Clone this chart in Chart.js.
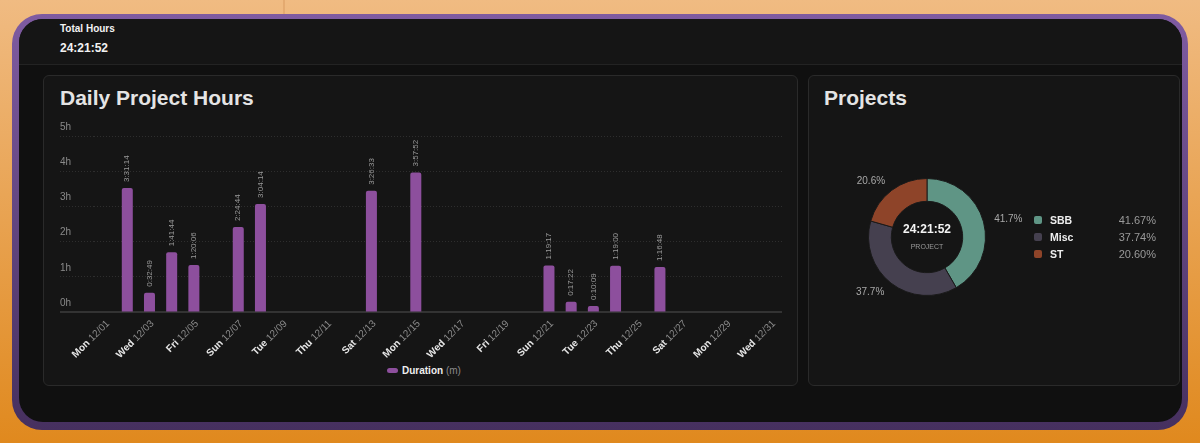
<!DOCTYPE html>
<html>
<head>
<meta charset="utf-8">
<script src="https://cdn.jsdelivr.net/npm/chart.js@4.4.1/dist/chart.umd.min.js"></script>
<style>
  body { margin: 0; width: 1200px; height: 443px; overflow: hidden; position: relative;
         background: linear-gradient(#f0bb82, #e0891e); font-family: "Liberation Sans", Arial, sans-serif; }
  .seam { position: absolute; left: 283px; top: 0; width: 2px; height: 16px; background: #e4aa70; }
  .frame { position: absolute; left: 12px; top: 14px; width: 1176px; height: 416px; border-radius: 30px;
           background: linear-gradient(#7f5ba1, #46305f); }
  .inner { position: absolute; left: 7px; top: 5px; right: 6px; bottom: 8px; border-radius: 24px;
           background: #101010; overflow: hidden; }
  .header { position: absolute; left: 0; top: 0; right: 0; height: 45px; background: #151515;
            border-bottom: 1px solid #232323; }
  .abs { position: absolute; }
  .card { position: absolute; background: #151515; border: 1px solid #2a2a2a; border-radius: 6px; box-sizing: border-box; }
  .title { position: absolute; font-size: 21px; font-weight: bold; color: #e4e4e4; line-height: 21px; }
  .legend-bar { position: absolute; left: 387px; top: 364px; font-size: 10px; line-height: 13px; color: #eee; }
  .legend-bar .pill { display: inline-block; width: 11px; height: 5px; border-radius: 3px; background: #8d4f9d;
                      vertical-align: middle; margin-right: 4px; position: relative; top: -1px; }
  .legend-bar b { font-weight: bold; }
  .legend-bar span.unit { color: #8a8a8a; }
  .plegend { position: absolute; left: 1034px; top: 212px; width: 122px; }
  .plegend .row { height: 17px; line-height: 17px; position: relative; font-size: 11px; }
  .plegend .sw { position: absolute; left: 0; top: 4px; width: 8px; height: 8px; border-radius: 2px; }
  .plegend .nm { position: absolute; left: 16px; color: #eee; font-weight: bold; font-size: 10.5px; }
  .plegend .pc { position: absolute; right: 0; color: #9a9a9a; }
</style>
</head>
<body>
<div class="seam"></div>
<div class="frame">
  <div class="inner">
    <div class="header">
      <div class="abs" style="left:41px;top:5px;font-size:10px;line-height:10px;font-weight:bold;color:#f2f2f2;">Total Hours</div>
      <div class="abs" id="total" style="left:41px;top:22.5px;font-size:12px;line-height:12px;font-weight:bold;color:#f2f2f2;"></div>
    </div>
  </div>
</div>

<div class="card" style="left:43px;top:75px;width:755px;height:311px;"></div>
<div class="card" style="left:808px;top:75px;width:372px;height:311px;"></div>
<div class="title" style="left:60px;top:87px;">Daily Project Hours</div>
<div class="title" style="left:824px;top:87px;">Projects</div>

<canvas id="daily" class="abs" style="left:44px;top:112px;" width="752" height="246"></canvas>
<div class="legend-bar"><span class="pill"></span><b>Duration</b> <span class="unit">(m)</span></div>

<canvas id="projects" class="abs" style="left:817px;top:157px;" width="220" height="160"></canvas>
<div class="plegend" id="plegend"></div>

<script>
// Jours de décembre
const days = [
    'Mon 12/01', 'Tue 12/02', 'Wed 12/03', 'Thu 12/04', 'Fri 12/05', 'Sat 12/06', 'Sun 12/07',
    'Mon 12/08', 'Tue 12/09', 'Wed 12/10', 'Thu 12/11', 'Fri 12/12', 'Sat 12/13', 'Sun 12/14',
    'Mon 12/15', 'Tue 12/16', 'Wed 12/17', 'Thu 12/18', 'Fri 12/19', 'Sat 12/20', 'Sun 12/21',
    'Mon 12/22', 'Tue 12/23', 'Wed 12/24', 'Thu 12/25', 'Fri 12/26', 'Sat 12/27', 'Sun 12/28',
    'Mon 12/29', 'Tue 12/30', 'Wed 12/31'
];
// Durée par jour (h:mm:ss), null = rien
const durations = [
    null, '3:31:14', '0:32:49', '1:41:44', '1:20:06', null, '2:24:44',
    '3:04:14', null, null, null, null, '3:26:33', null,
    '3:57:52', null, null, null, null, null, '1:19:17',
    '0:17:22', '0:10:09', '1:19:00', null, '1:16:48', null, null,
    null, null, null
];
const yTicksMinutes = [0, 60, 120, 180, 240, 300];

const projectNames = ['SBB', 'Misc', 'ST'];
const projectShares = [41.67, 37.74, 20.60];
const projectColors = ['#5f9585', '#45404f', '#8e4429'];

const toSeconds = s => {
    const [h, m, sec] = s.split(':').map(Number);
    return h * 3600 + m * 60 + sec;
};
const fmt = secs => {
    const h = Math.floor(secs / 3600);
    const m = Math.floor((secs % 3600) / 60);
    const s = secs % 60;
    return `${h}:${String(m).padStart(2, '0')}:${String(s).padStart(2, '0')}`;
};

const minutes = durations.map(d => d ? toSeconds(d) / 60 : null);
const totalLabel = fmt(durations.filter(Boolean).reduce((a, d) => a + toSeconds(d), 0));
document.getElementById('total').textContent = totalLabel;

const FONT = '"Liberation Sans", Arial, sans-serif';

// Étiquettes des barres, axe x et ligne de base
const dailyDecor = {
    id: 'dailyDecor',
    beforeDatasetsDraw(chart) {
        const { ctx } = chart;
        const yScale = chart.scales.y;
        const y0 = yScale.getPixelForValue(0);
        ctx.save();
        ctx.strokeStyle = '#333';
        ctx.lineWidth = 2;
        ctx.beginPath();
        ctx.moveTo(yScale.left, y0);
        ctx.lineTo(chart.chartArea.right, y0);
        ctx.stroke();
        ctx.restore();
    },
    afterDatasetsDraw(chart) {
        const { ctx } = chart;
        const meta = chart.getDatasetMeta(0);
        ctx.save();
        ctx.font = `8px ${FONT}`;
        ctx.fillStyle = '#9a9a9a';
        ctx.textAlign = 'left';
        ctx.textBaseline = 'middle';
        meta.data.forEach((bar, i) => {
            if (!durations[i]) return;
            ctx.save();
            ctx.translate(bar.x, bar.y - 6);
            ctx.rotate(-Math.PI / 2);
            ctx.fillText(durations[i], 0, 0);
            ctx.restore();
        });
        ctx.restore();

        const xScale = chart.scales.x;
        const y0 = chart.scales.y.getPixelForValue(0);
        ctx.save();
        ctx.textAlign = 'right';
        ctx.textBaseline = 'middle';
        days.forEach((label, i) => {
            if (i % 2) return;
            const [wd, md] = label.split(' ');
            ctx.save();
            ctx.translate(xScale.getPixelForValue(i) + 3, y0 + 10);
            ctx.rotate(-Math.PI / 4);
            ctx.font = `10px ${FONT}`;
            ctx.fillStyle = '#8a8a8a';
            ctx.fillText(md, 0, 0);
            const w = ctx.measureText(' ' + md).width;
            ctx.font = `bold 10px ${FONT}`;
            ctx.fillStyle = '#e6e6e6';
            ctx.fillText(wd, -w, 0);
            ctx.restore();
        });
        ctx.restore();
    }
};

new Chart(document.getElementById('daily'), {
    type: 'bar',
    data: {
        labels: days,
        datasets: [{
            label: 'Duration (m)',
            data: minutes,
            backgroundColor: '#8d4f9d',
            borderRadius: 2,
            barPercentage: 0.62,
            categoryPercentage: 0.8
        }]
    },
    options: {
        responsive: false,
        animation: false,
        layout: { padding: { left: 16, right: 14, top: 24, bottom: 2 } },
        scales: {
            x: {
                grid: { display: false },
                border: { display: false },
                ticks: { display: false },
                afterFit: s => { s.height = 44; }
            },
            y: {
                min: 0,
                max: 300,
                afterBuildTicks: s => { s.ticks = yTicksMinutes.map(v => ({ value: v })); },
                ticks: {
                    mirror: true,
                    padding: -34,
                    labelOffset: -9,
                    color: '#8a8a8a',
                    font: { size: 10, family: FONT },
                    callback: v => (v / 60) + 'h'
                },
                grid: {
                    color: '#2e2e2e',
                    tickColor: '#2e2e2e',
                    tickLength: 34,
                    tickBorderDash: [1, 2],
                    lineWidth: 1
                },
                border: { display: false, dash: [1, 2] },
                afterFit: s => { s.width = 34; }
            }
        },
        plugins: { legend: { display: false }, tooltip: { enabled: false } }
    },
    plugins: [dailyDecor]
});

// Texte central et pourcentages autour de l'anneau
const donutDecor = {
    id: 'donutDecor',
    afterDraw(chart) {
        const { ctx } = chart;
        const meta = chart.getDatasetMeta(0);
        const first = meta.data[0];
        ctx.save();
        ctx.textAlign = 'center';
        ctx.textBaseline = 'middle';
        ctx.fillStyle = '#f4f4f4';
        ctx.font = `bold 12px ${FONT}`;
        ctx.fillText(totalLabel, first.x, first.y - 7);
        ctx.fillStyle = '#9a9a9a';
        ctx.font = `7px ${FONT}`;
        ctx.fillText('PROJECT', first.x, first.y + 10);

        ctx.font = `10px ${FONT}`;
        ctx.fillStyle = '#a8a8a8';
        meta.data.forEach((arc, i) => {
            const mid = (arc.startAngle + arc.endAngle) / 2;
            const r = arc.outerRadius + 11;
            const px = arc.x + Math.cos(mid) * r;
            const py = arc.y + Math.sin(mid) * r;
            ctx.textAlign = Math.cos(mid) >= 0 ? 'left' : 'right';
            ctx.fillText(projectShares[i].toFixed(1) + '%', px, py);
        });
        ctx.restore();
    }
};

new Chart(document.getElementById('projects'), {
    type: 'doughnut',
    data: {
        labels: projectNames,
        datasets: [{
            data: projectShares,
            backgroundColor: projectColors,
            borderColor: '#1a1a1a',
            borderWidth: 1
        }]
    },
    options: {
        responsive: false,
        animation: false,
        cutout: '61%',
        layout: { padding: { left: 51, right: 51, top: 21, bottom: 21 } },
        plugins: { legend: { display: false }, tooltip: { enabled: false } }
    },
    plugins: [donutDecor]
});

// Légende HTML des projets
const legendEl = document.getElementById('plegend');
projectNames.forEach((name, i) => {
    const row = document.createElement('div');
    row.className = 'row';
    row.innerHTML = `<span class="sw" style="background:${projectColors[i]}"></span>` +
        `<span class="nm">${name}</span><span class="pc">${projectShares[i].toFixed(2)}%</span>`;
    legendEl.appendChild(row);
});
</script>
</body>
</html>
